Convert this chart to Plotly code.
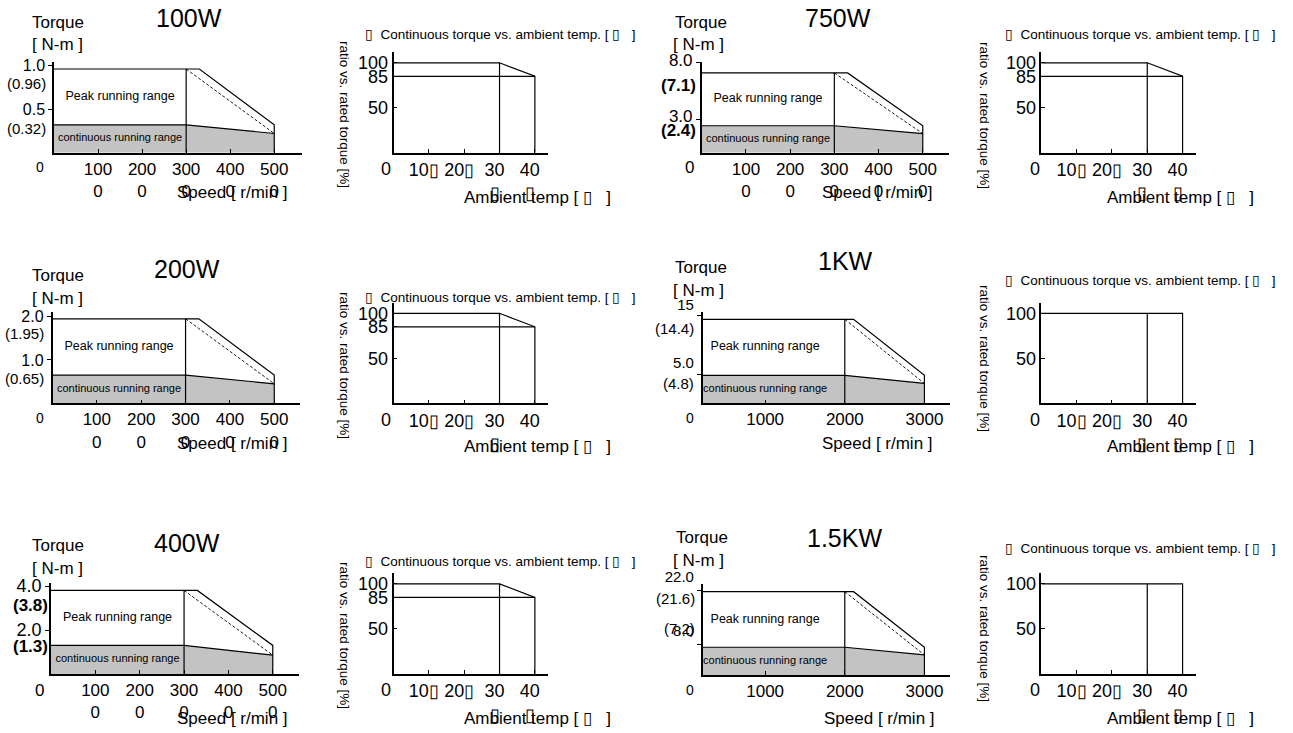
import plotly.graph_objects as go

W, H = 1293, 733
FONT = "Liberation Sans, Arial, sans-serif"
TOFU = "\u25af"
GRAY = "#c3c3c3"

# ---- torque / speed curves (one entry per motor) ----
models = ["100W", "200W", "400W", "750W", "1KW", "1.5KW"]
rated_speed = [3000, 3000, 3000, 3000, 2000, 2000]
corner_speed = [3300, 3300, 3300, 3300, 2110, 2110]
max_speed = [5000, 5000, 5000, 5000, 3000, 3000]
peak_torque = [0.96, 1.95, 3.8, 7.1, 14.4, 21.6]
cont_torque = [0.32, 0.65, 1.3, 2.4, 4.8, 7.2]
end_torque = [0.22, 0.45, 0.86, 1.7, 3.4, 5.2]

torque_tickvals = [[1.0, 0.5], [2.0, 1.0], [4.0, 2.0], [8.0, 3.0], [15, 5.0], [22.0, 8.0]]
torque_ticktext = [["1.0", "0.5"], ["2.0", "1.0"], ["4.0", "2.0"],
                   ["8.0", "3.0"], ["15", "5.0"], ["22.0", "8.0"]]
speed_tickvals = [[1000, 2000, 3000, 4000, 5000]] * 4 + [[1000, 2000, 3000]] * 2
speed_ticktext = [["100<br>0", "200<br>0", "300<br>0", "400<br>0", "500<br>0"]] * 4 \
    + [["1000", "2000", "3000"]] * 2

# ---- continuous torque vs ambient temperature ----
temp_x = [0, 30, 40]
temp_ratio = [[100, 100, 85]] * 4 + [[100, 100, 100]] * 2
ratio_tickvals = [[100, 85, 50]] * 4 + [[100, 50]] * 2
ratio_ticktext = [["100", "85", "50"]] * 4 + [["100", "50"]] * 2
temp_tickvals = [10, 20, 30, 40]
temp_ticktext = [["10" + TOFU, "20" + TOFU, "30<br>" + TOFU, "40<br>" + TOFU]] * 6
temp_ticktext[1] = ["10" + TOFU, "20" + TOFU, "30<br>" + TOFU, "40"]

temp_title = TOFU + "  Continuous torque vs. ambient temp. [ " + TOFU + "   ]"
ratio_label = "ratio vs. rated torque [%]"
temp_label = "Ambient temp [ " + TOFU + "   ]"

# ---- layout in pixels ----
torque_dom_x = [(54, 302), (52.5, 300), (51, 298.5), (701.7, 949.3), (702.7, 950), (702.7, 950)]
torque_dom_y = [(152.7, 61.7), (403.3, 312.3), (674, 583), (152.7, 61.7), (403.3, 312.3), (675, 584)]
speed_range = [[0, 5630], [0, 5580], [0, 5580], [0, 5600], [216, 3321], [216, 3321]]
torque_top = [1.044, 2.1, 4.14, 8.1, 15.6, 23.6]
ytick_size = [16, 16, 18, 17, 15, 15]
ytick_shift = [0, 0, 0, 3, 11, 13]  # px upwards

temp_dom_x = [(393.5, 548.3)] * 3 + [(1041.3, 1196)] * 3
temp_dom_y = [(152.7, 52), (403.3, 302.5), (674, 573)] * 2

title_xy = [(189, 18), (187, 269), (187, 543), (838, 18), (845, 261), (844, 538)]
torque_lbl_xy = [(58, 22), (58, 275), (58, 545), (701, 22), (701, 267), (702, 537)]
nm_lbl_xy = [(57, 45), (57, 298), (57, 568), (698, 45), (698, 290), (698, 560)]
origin_xy = [(40, 167), (40, 418), (39, 690), (690, 167), (690, 418), (690, 690)]
origin_size = [14, 14, 17, 17, 14, 14]
speed_lbl_xy = [(233, 193), (233, 443), (233, 718), (877, 193), (877, 443), (879, 718)]
peak_lbl_xy = [(48, 83), (46, 333), (50, 605), (698, 85), (696, 328), (697, 598)]
cont_lbl_xy = [(48, 128), (46, 378), (50, 646), (698, 130), (696, 383), (697, 628)]
paren_bold = [False, False, True, True, False, False]

ttitle_xy = [(363, 35), (363, 297), (363, 561), (1003, 35), (1003, 280), (1003, 548)]
ratio_lbl_xy = [(345, 115), (345, 366), (345, 636), (985, 115), (985, 358), (985, 628)]
temp0_xy = [(386, 169), (386, 420), (386, 690), (1035, 169), (1035, 420), (1035, 690)]
templbl_xy = [(537, 198), (537, 446), (537, 718), (1180, 198), (1180, 446), (1180, 718)]

fig = go.Figure()
annotations = []


def note(text, x, y, size, bold=False, xanchor="center", **kw):
    if bold:
        text = "<b>" + text + "</b>"
    annotations.append(dict(
        text=text, x=x / W, y=1 - y / H, xref="paper", yref="paper",
        xanchor=xanchor, yanchor="middle",
        showarrow=False, font=dict(size=size, color="black", family=FONT), **kw))


def line(xa, ya, xs, ys, **kw):
    fig.add_trace(go.Scatter(
        x=xs, y=ys, xaxis=xa, yaxis=ya, mode="lines", hoverinfo="skip",
        line=dict(color="black", width=kw.pop("width", 1.2), dash=kw.pop("dash", "solid")),
        **kw))


axes = {}
for i, name in enumerate(models):
    nt, nr = 2 * i + 1, 2 * i + 2
    xt, yt = ("x", "y") if nt == 1 else (f"x{nt}", f"y{nt}")
    xr, yr = f"x{nr}", f"y{nr}"

    # torque-speed panel
    rs, cs, ms = rated_speed[i], corner_speed[i], max_speed[i]
    pk, ct, et = peak_torque[i], cont_torque[i], end_torque[i]
    line(xt, yt, [0, rs, ms], [ct, ct, et], fill="tozeroy", fillcolor=GRAY)
    line(xt, yt, [0, cs, ms, ms], [pk, pk, ct, 0])
    line(xt, yt, [rs, rs], [0, pk])
    line(xt, yt, [rs, ms], [pk, et], width=0.9, dash="3px,2px")
    fig.add_trace(go.Scatter(
        x=[rs / 2, rs / 2], y=[(pk + ct) / 2, ct / 2], xaxis=xt, yaxis=yt,
        mode="text", text=["Peak running range", "continuous running range"],
        textfont=dict(size=[12.5, 11], family=FONT, color="black"),
        hoverinfo="skip"))

    dx, dy = torque_dom_x[i], torque_dom_y[i]
    axes["xaxis" if nt == 1 else f"xaxis{nt}"] = dict(
        domain=[dx[0] / W, dx[1] / W], range=speed_range[i], anchor=yt,
        tickvals=speed_tickvals[i], ticktext=speed_ticktext[i],
        ticks="inside", ticklen=4, tickfont=dict(size=17))
    axes["yaxis" if nt == 1 else f"yaxis{nt}"] = dict(
        domain=[1 - dy[0] / H, 1 - dy[1] / H], range=[0, torque_top[i]], anchor=xt,
        tickvals=torque_tickvals[i], ticktext=torque_ticktext[i],
        ticks="outside", ticklen=4, tickfont=dict(size=ytick_size[i]),
        ticklabelshift=-ytick_shift[i])

    note(name, *title_xy[i], 25)
    note("Torque", *torque_lbl_xy[i], 17)
    note("[ N-m ]", *nm_lbl_xy[i], 17)
    note("0", *origin_xy[i], origin_size[i])
    note("Speed [ r/min ]", *speed_lbl_xy[i], 17)
    psize = 17 if paren_bold[i] else 15
    note(f"({pk})", *peak_lbl_xy[i], psize, bold=paren_bold[i], xanchor="right")
    note(f"({ct})", *cont_lbl_xy[i], psize, bold=paren_bold[i], xanchor="right")

    # ambient temperature panel
    ry = temp_ratio[i]
    line(xr, yr, [temp_x[0], temp_x[1], temp_x[2], temp_x[2]], [ry[0], ry[1], ry[2], 0])
    if ry[2] < ry[1]:
        line(xr, yr, [temp_x[0], temp_x[2]], [ry[2], ry[2]])
    line(xr, yr, [temp_x[1], temp_x[1]], [0, ry[1]])

    dx, dy = temp_dom_x[i], temp_dom_y[i]
    axes[f"xaxis{nr}"] = dict(
        domain=[dx[0] / W, dx[1] / W], range=[0, 43.8], anchor=yr,
        tickvals=temp_tickvals, ticktext=temp_ticktext[i],
        ticks="inside", ticklen=4, tickfont=dict(size=18), ticklabelshift=-5)
    axes[f"yaxis{nr}"] = dict(
        domain=[1 - dy[0] / H, 1 - dy[1] / H], range=[0, 112], anchor=xr,
        tickvals=ratio_tickvals[i], ticktext=ratio_ticktext[i],
        ticks="inside", ticklen=4, tickfont=dict(size=18))

    note(temp_title, *ttitle_xy[i], 13.5, xanchor="left")
    note(ratio_label, *ratio_lbl_xy[i], 13.5, textangle=90)
    note("0", *temp0_xy[i], 18)
    note(temp_label, *templbl_xy[i], 17)

for k, ax in axes.items():
    ax.update(showline=True, linecolor="black", linewidth=1.5, showgrid=False,
              zeroline=False, tickcolor="black", tickwidth=1, fixedrange=True,
              automargin=False)
    ax["tickfont"].update(family=FONT, color="black")

fig.update_layout(
    width=W, height=H,
    margin=dict(l=0, r=0, t=0, b=0),
    paper_bgcolor="white", plot_bgcolor="white",
    showlegend=False,
    font=dict(family=FONT, color="black"),
    annotations=annotations,
    **axes,
)

fig.write_html("out.html", config={"displayModeBar": False},
               post_script="document.body.style.margin = '0';")
